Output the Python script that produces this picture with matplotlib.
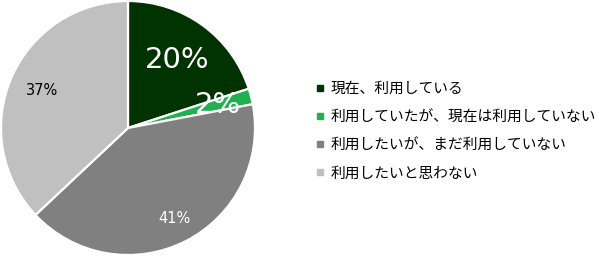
import matplotlib
matplotlib.use('Agg')
import matplotlib.pyplot as plt
from matplotlib.lines import Line2D

plt.rcParams['font.family'] = ['Noto Sans CJK JP', 'DejaVu Sans']

# データ
labels = ['現在、利用している', '利用していたが、現在は利用していない',
          '利用したいが、まだ利用していない', '利用したいと思わない']
values = [20, 2, 41, 37]
colors = ['#003300', '#21b04f', '#808080', '#c0c0c0']
pct_colors = ['white', 'white', 'white', 'black']
pct_sizes = [21, 21, 10.5, 10.5]
pct_dist = [0.66, 0.73, 0.80, 0.74]

fig = plt.figure(figsize=(5.99, 2.56), dpi=100)
ax = fig.add_axes([1 / 599, 1 / 256, 254 / 599, 254 / 256])

wedges, texts, autotexts = ax.pie(
    values, colors=colors, startangle=90, counterclock=False,
    autopct='%d%%', pctdistance=1.0,
    wedgeprops=dict(edgecolor='white', linewidth=1.6))

for t, c, s, d in zip(autotexts, pct_colors, pct_sizes, pct_dist):
    x, y = t.get_position()
    t.set_position((x * d, y * d))
    t.set_color(c)
    t.set_fontsize(s)
    t.set_family(['DejaVu Sans'])
ax.set_xlim(-1.0, 1.0)
ax.set_ylim(-1.0, 1.0)
ax.set_aspect('equal')

# 凡例
handles = [Line2D([0], [0], marker='s', linestyle='', markersize=5,
                  markerfacecolor=c, markeredgecolor=c) for c in colors]
fig.legend(handles, labels, loc='center left', bbox_to_anchor=(0.502, 0.487),
           frameon=False, fontsize=10.6, handletextpad=0.3, labelspacing=0.95,
           handlelength=0.8)

fig.savefig('out.png', dpi=100)
